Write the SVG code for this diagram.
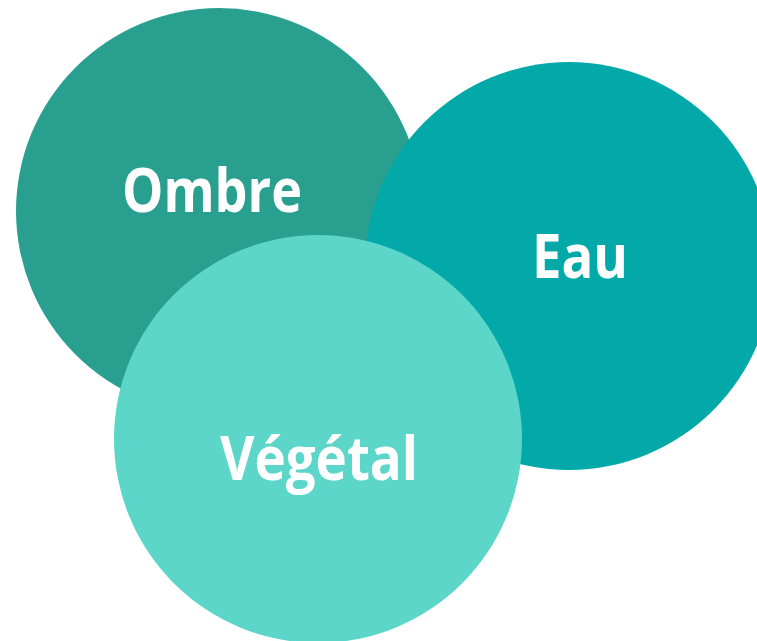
<svg xmlns="http://www.w3.org/2000/svg" width="757" height="641" viewBox="0 0 757 641">
<style>
.lbl{font-family:"Open Sans","Noto Sans","Liberation Sans",sans-serif;font-weight:700;font-size:60px;fill:#ffffff;text-anchor:middle}
</style>
<rect width="757" height="641" fill="#ffffff"/>
<g id="ombre">
<circle cx="219" cy="211" r="203" fill="#29a08f"/>
<text class="lbl" x="212" y="212" textLength="180" lengthAdjust="spacingAndGlyphs">Ombre</text>
</g>
<g id="eau">
<circle cx="569" cy="266" r="204" fill="#03a9a9"/>
<text class="lbl" x="580" y="278" textLength="96" lengthAdjust="spacingAndGlyphs">Eau</text>
</g>
<g id="vegetal">
<circle cx="318" cy="439" r="204" fill="#5bd6c8"/>
<text class="lbl" x="319" y="480" textLength="198" lengthAdjust="spacingAndGlyphs">Végétal</text>
</g>
<g id="connectors"/>
</svg>
